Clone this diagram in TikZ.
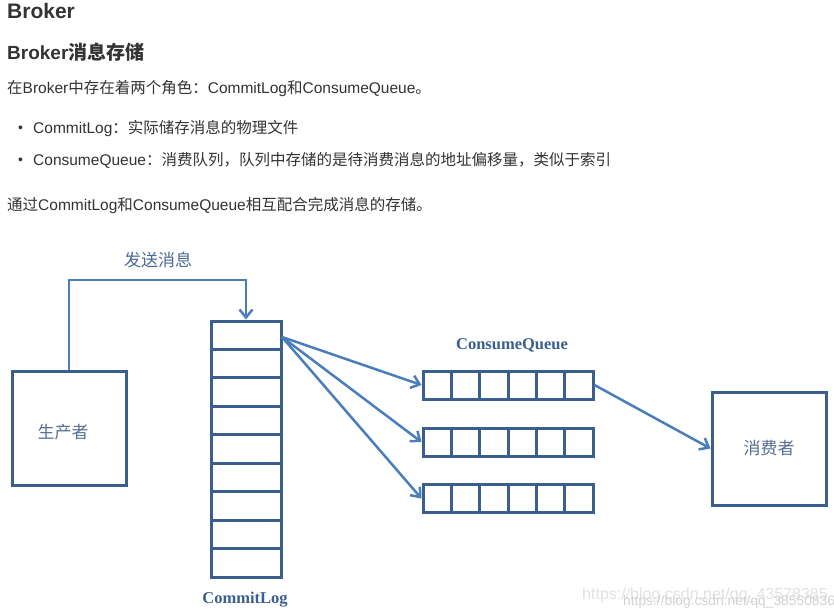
\documentclass[tikz,border=0pt]{standalone}
\usepackage{fontspec}
\setmainfont{Liberation Sans}
\newfontfamily\cjk{Noto Sans CJK SC}
\newfontfamily\tnr{Liberation Serif}
\usetikzlibrary{arrows.meta}

\definecolor{bodytext}{HTML}{333333}
\definecolor{boxblue}{HTML}{3A5F8F}
\definecolor{arrowblue}{HTML}{4A7EBB}
\definecolor{labelblue}{HTML}{4C6A98}
\definecolor{markgray}{HTML}{E2E2E2}
\definecolor{markgraydark}{HTML}{D2D2D2}

\tikzset{
  textline/.style={anchor=base west, inner sep=0pt, text=bodytext, font=\fontsize{15.5}{18}\selectfont},
  box/.style={draw=boxblue, line width=3pt, inner sep=0pt},
  cellsep/.style={boxblue, line width=3pt},
  flow/.style={arrowblue, line width=2.5pt, -{Straight Barb[length=8pt,width=13pt,line width=2.5pt]}},
  diaglabel/.style={inner sep=0pt, text=labelblue, font=\cjk\fontsize{17}{20}\selectfont},
  partlabel/.style={inner sep=0pt, text=boxblue, font=\tnr\bfseries\fontsize{16.5}{19}\selectfont},
  watermark/.style={anchor=west, inner sep=0pt, font=\fontsize{16}{18}\selectfont},
}

\begin{document}
\begin{tikzpicture}[x=1pt,y=-1pt]
    \useasboundingbox (0,0) rectangle (834,614);
    \fill[white] (0,0) rectangle (834,614);

    % page text
    \node[textline, font=\bfseries\fontsize{21}{24}\selectfont] (title) at (7,18) {Broker};
    \node[textline, font=\bfseries\fontsize{19}{22}\selectfont] (subtitle) at (7,59) {Broker{\cjk 消息存储}};
    \node[textline] (intro) at (7,93) {{\cjk 在}Broker{\cjk 中存在着两个角色：}CommitLog{\cjk 和}ConsumeQueue{\cjk 。}};
    \node[textline, font=\fontsize{14}{16}\selectfont] (dot1) at (18,132.5) {•};
    \node[textline] (item1) at (33,133) {CommitLog{\cjk ：实际储存消息的物理文件}};
    \node[textline, font=\fontsize{14}{16}\selectfont] (dot2) at (18,164.5) {•};
    \node[textline] (item2) at (33,165) {ConsumeQueue{\cjk ：消费队列，队列中存储的是待消费消息的地址偏移量，类似于索引}};
    \node[textline] (summary) at (7,210) {{\cjk 通过}CommitLog{\cjk 和}ConsumeQueue{\cjk 相互配合完成消息的存储。}};

    % boxes
    \node[box, minimum width=114pt, minimum height=114pt] (producer) at (69,428) {};
    \node[diaglabel, text=labelblue!80!gray] (producer text) at (63,432) {生产者};
    \node[box, minimum width=114pt, minimum height=113pt, font=\cjk\fontsize{17}{20}\selectfont, text=labelblue!80!gray] (consumer) at (769,448.5) {消费者};

    \node[box, minimum width=70pt, minimum height=256pt] (commitlog) at (246,449) {};
    \foreach \i in {1,...,8}
        \draw[cellsep] (211,{321+\i*256/9}) -- (281,{321+\i*256/9});

    \node[box, minimum width=170pt, minimum height=28pt] (q1) at (508,385) {};
    \node[box, minimum width=170pt, minimum height=28pt] (q2) at (508,442) {};
    \node[box, minimum width=170pt, minimum height=28pt] (q3) at (508,498.5) {};
    \foreach \y in {385,442,498.5}
        \foreach \j in {1,...,5}
            \draw[cellsep] ({423+\j*170/6},\y-14) -- ({423+\j*170/6},\y+14);

    % labels
    \node[diaglabel] (send) at (158,260) {发送消息};
    \node[partlabel] (commitlog label) at (245,600) {CommitLog};
    \node[partlabel] (queue label) at (512,345) {ConsumeQueue};

    % connectors
    \coordinate (bend) at (69,280);
    \draw[flow] (producer.north) -- (bend) -| (commitlog.north);

    \coordinate (clout) at (282,337);
    \draw[flow] (clout) -- (q1.west);
    \draw[flow] (clout) -- (q2.west);
    \draw[flow] (clout) -- (q3.west);

    \draw[flow] (q1.east) -- (consumer.west);

    % watermark
    \node[watermark, text=markgray] (mark one) at (582,595) {https://blog.csdn.net/qq\_43578385};
    \node[watermark, text=markgraydark, font=\fontsize{13.8}{16}\selectfont] (mark two) at (623,602) {https://blog.csdn.net/qq\_38550836};
\end{tikzpicture}
\end{document}
